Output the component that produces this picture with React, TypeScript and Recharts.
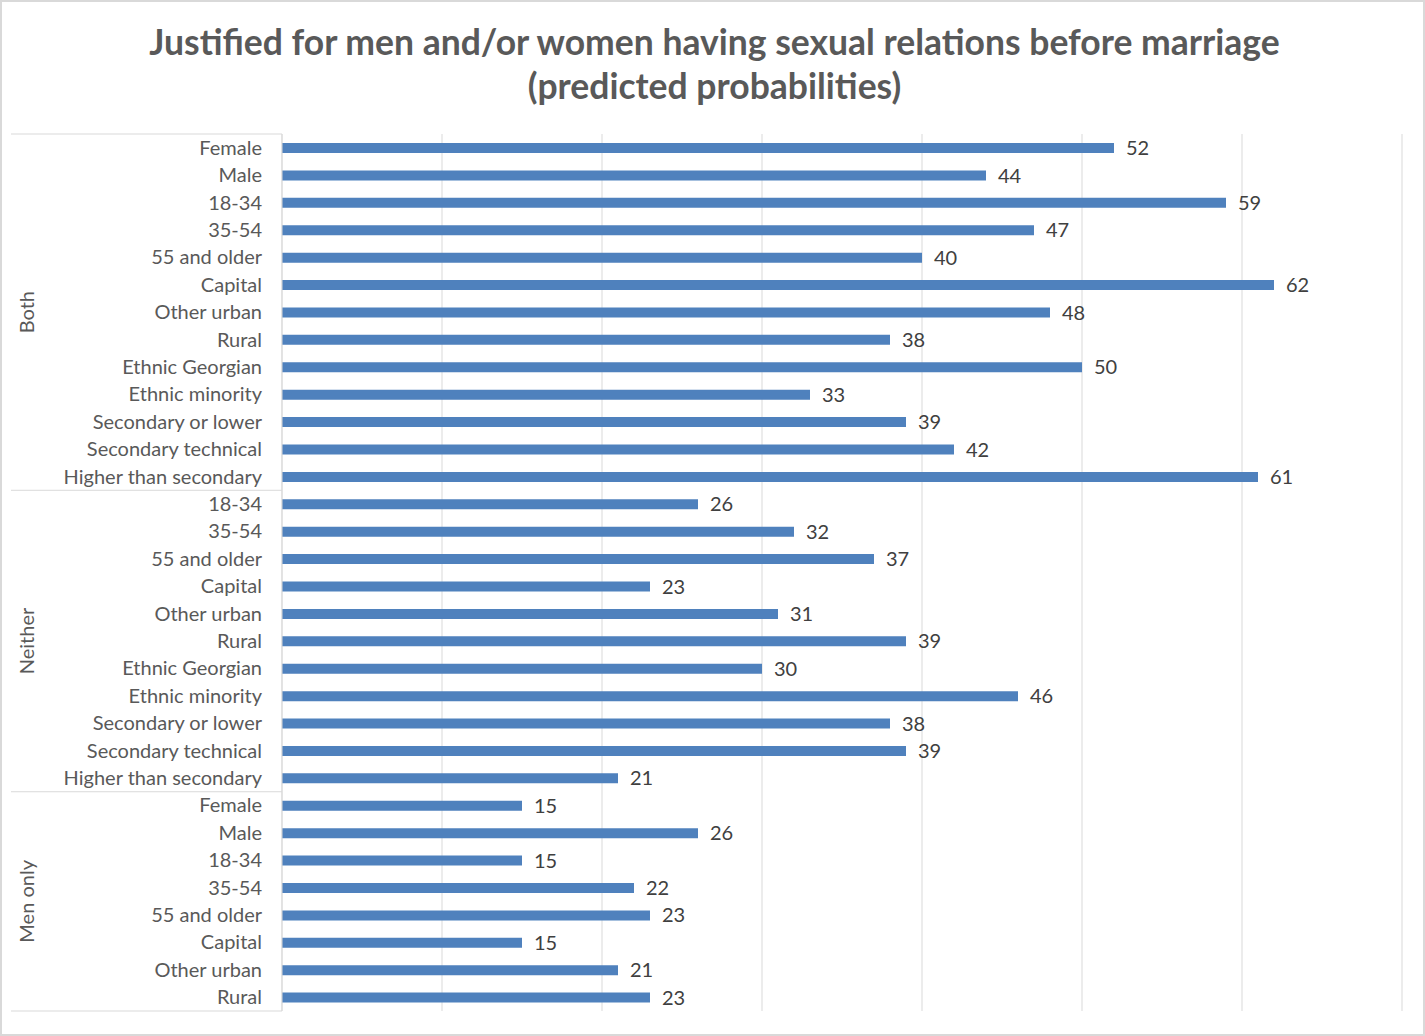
import { BarChart, Bar, XAxis, YAxis, CartesianGrid, LabelList } from 'recharts'

const groups = ['Both', 'Neither', 'Men only']

const bothLabels = ['Female', 'Male', '18-34', '35-54', '55 and older', 'Capital', 'Other urban', 'Rural', 'Ethnic Georgian', 'Ethnic minority', 'Secondary or lower', 'Secondary technical', 'Higher than secondary']
const bothValues = [52, 44, 59, 47, 40, 62, 48, 38, 50, 33, 39, 42, 61]

const neitherLabels = ['18-34', '35-54', '55 and older', 'Capital', 'Other urban', 'Rural', 'Ethnic Georgian', 'Ethnic minority', 'Secondary or lower', 'Secondary technical', 'Higher than secondary']
const neitherValues = [26, 32, 37, 23, 31, 39, 30, 46, 38, 39, 21]

const menOnlyLabels = ['Female', 'Male', '18-34', '35-54', '55 and older', 'Capital', 'Other urban', 'Rural']
const menOnlyValues = [15, 26, 15, 22, 23, 15, 21, 23]

const xTicks = [0, 10, 20, 30, 40, 50, 60, 70]

const W = 1425
const H = 1036
const TOP = 134
const BOTTOM = 25
const BAND = (H - TOP - BOTTOM) / (bothLabels.length + neitherLabels.length + menOnlyLabels.length)

const rows = [
  ...bothLabels.map((l, i) => ({ key: `${groups[0]}|${l}`, group: groups[0], label: l, value: bothValues[i] })),
  ...neitherLabels.map((l, i) => ({ key: `${groups[1]}|${l}`, group: groups[1], label: l, value: neitherValues[i] })),
  ...menOnlyLabels.map((l, i) => ({ key: `${groups[2]}|${l}`, group: groups[2], label: l, value: menOnlyValues[i] })),
]

const FONT = 'Lato, "Open Sans", sans-serif'

function CategoryTick(props: any) {
  const { x, y, payload } = props
  const idx = rows.findIndex(r => r.key === payload.value)
  const row = rows[idx]
  if (!row) return null
  const first = idx === 0 || rows[idx - 1].group !== row.group
  const last = idx === rows.length - 1
  const count = rows.filter(r => r.group === row.group).length
  const top = y - BAND / 2
  return (
    <g>
      <text x={x} y={y} dy={7} textAnchor="end" fill="#595959" fontSize={20} fontFamily={FONT}>
        {row.label}
      </text>
      {first && (
        <>
          <line x1={11} x2={282} y1={top} y2={top} stroke="#d9d9d9" />
          <text
            x={28}
            y={top + (count * BAND) / 2}
            transform={`rotate(-90 28 ${top + (count * BAND) / 2})`}
            textAnchor="middle"
            dy={6}
            fill="#595959"
            fontSize={20}
            fontFamily={FONT}
          >
            {row.group}
          </text>
        </>
      )}
      {last && <line x1={11} x2={282} y1={y + BAND / 2} y2={y + BAND / 2} stroke="#d9d9d9" />}
    </g>
  )
}

export default function App() {
  return (
    <div
      style={{
        position: 'absolute',
        left: 0,
        top: 0,
        width: W,
        height: H,
        boxSizing: 'border-box',
        border: '2px solid #d9d9d9',
        background: '#fff',
        overflow: 'hidden',
      }}
    >
      <div
        style={{
          position: 'absolute',
          left: 0,
          top: 18,
          width: W,
          textAlign: 'center',
          fontFamily: FONT,
          fontWeight: 700,
          fontSize: 35.5,
          lineHeight: '44px',
          color: '#595959',
        }}
      >
        Justified for men and/or women having sexual relations before marriage
        <br />
        (predicted probabilities)
      </div>
      <div style={{ position: 'absolute', left: -2, top: -2 }}>
        <BarChart
          width={W}
          height={H}
          data={rows}
          layout="vertical"
          margin={{ top: TOP, right: 23, bottom: BOTTOM, left: 0 }}
          barSize={10}
        >
          <CartesianGrid horizontal={false} stroke="#d9d9d9" />
          <XAxis type="number" domain={[0, 70]} ticks={xTicks} hide />
          <YAxis
            type="category"
            dataKey="key"
            width={282}
            interval={0}
            tickLine={false}
            tickSize={0}
            tickMargin={20}
            axisLine={{ stroke: '#d9d9d9' }}
            tick={<CategoryTick />}
          />
          <Bar dataKey="value" fill="#4f81bd" isAnimationActive={false}>
            <LabelList
              dataKey="value"
              position="right"
              offset={12}
              fill="#404040"
              fontSize={20}
              fontFamily={FONT}
            />
          </Bar>
        </BarChart>
      </div>
    </div>
  )
}
